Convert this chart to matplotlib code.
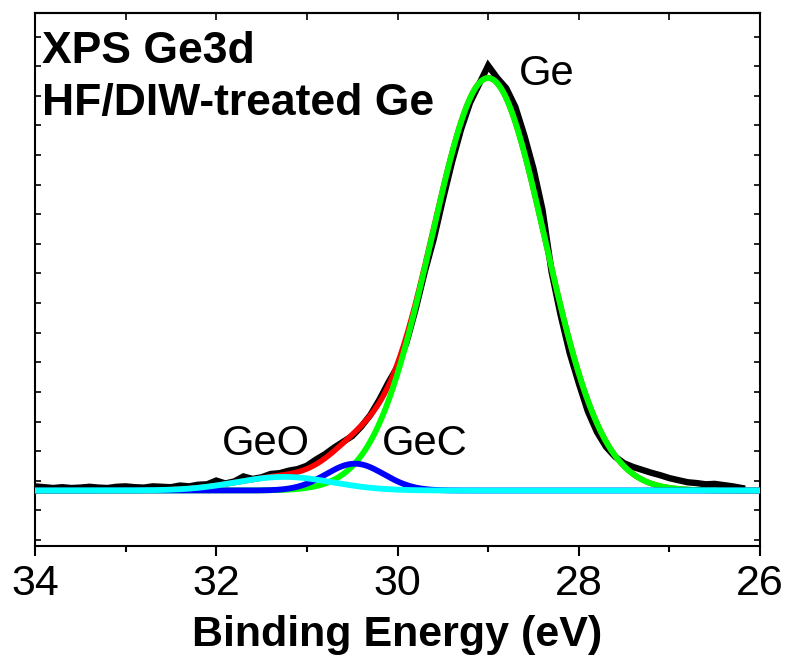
import numpy as np
import matplotlib

matplotlib.use("Agg")

import matplotlib.pyplot as plt
from matplotlib.ticker import MultipleLocator

plt.rcParams["font.family"] = ["Liberation Sans", "DejaVu Sans"]

# measured Ge 3d spectrum (binding energy in eV, normalised intensity)
BE = [34.0, 33.9, 33.8, 33.7, 33.6, 33.5, 33.4, 33.3, 33.2, 33.1,
      33.0, 32.9, 32.8, 32.7, 32.6, 32.5, 32.4, 32.3, 32.2, 32.1,
      32.0, 31.9, 31.8, 31.7, 31.6, 31.5, 31.4, 31.3, 31.2, 31.1,
      31.0, 30.9, 30.8, 30.7, 30.6, 30.5, 30.4, 30.3, 30.2, 30.1,
      30.0, 29.9, 29.8, 29.7, 29.6, 29.5, 29.4, 29.3, 29.2, 29.1,
      29.0, 28.9, 28.8, 28.7, 28.6, 28.5, 28.4, 28.3, 28.2, 28.1,
      28.0, 27.9, 27.8, 27.7, 27.6, 27.5, 27.4, 27.3, 27.2, 27.1,
      27.0, 26.9, 26.8, 26.7, 26.6, 26.5, 26.4, 26.3, 26.2]
INTENSITY = [0.010, 0.008, 0.006, 0.008, 0.006, 0.007, 0.009, 0.007, 0.006, 0.009,
             0.010, 0.008, 0.007, 0.010, 0.009, 0.008, 0.012, 0.010, 0.014, 0.015,
             0.024, 0.017, 0.022, 0.034, 0.028, 0.032, 0.040, 0.042, 0.048, 0.052,
             0.060, 0.075, 0.088, 0.104, 0.118, 0.132, 0.155, 0.183, 0.220, 0.262,
             0.300, 0.360, 0.440, 0.530, 0.610, 0.705, 0.795, 0.875, 0.940, 0.985,
             1.030, 1.000, 0.975, 0.930, 0.860, 0.780, 0.680, 0.530, 0.425, 0.333,
             0.260, 0.192, 0.142, 0.106, 0.082, 0.066, 0.057, 0.050, 0.043, 0.037,
             0.030, 0.025, 0.020, 0.018, 0.015, 0.016, 0.013, 0.010, 0.006]

# fitted components: name, centre (eV), height, sigma (eV), colour
PEAK_NAMES = ["Ge", "GeC", "GeO"]
PEAK_CENTERS = [29.0, 30.47, 31.25]
PEAK_HEIGHTS = [1.0, 0.065, 0.033]
PEAK_SIGMAS = [0.63, 0.32, 0.53]
PEAK_COLORS = ["#00ff00", "#0000ff", "#00ffff"]


def gauss(e, center, height, sigma):
    return height * np.exp(-((e - center) ** 2) / (2 * sigma ** 2))


fig = plt.figure(figsize=(7.86, 6.56), dpi=100)
ax = fig.add_axes([0.0445, 0.1677, 0.9225, 0.8125])

e_fit = np.linspace(34, 26, 801)
components = [gauss(e_fit, c, h, s) for c, h, s in zip(PEAK_CENTERS, PEAK_HEIGHTS, PEAK_SIGMAS)]
envelope = np.sum(components, axis=0)

ax.plot(BE, INTENSITY, color="black", lw=4.6, solid_joinstyle="miter", zorder=2)
ax.plot(e_fit, envelope, color="#ff0000", lw=4.0, zorder=3)
for i, (comp, color) in enumerate(zip(components, PEAK_COLORS)):
    ax.plot(e_fit, comp, color=color, lw=4.2, zorder=4 + i)

ax.set_xlim(34, 26)
ax.set_ylim(-0.1345, 1.1576)

ax.xaxis.set_major_locator(MultipleLocator(2))
ax.xaxis.set_minor_locator(MultipleLocator(1))
ax.tick_params(axis="x", which="major", direction="out", length=7, width=1.5,
               labelsize=31, pad=6, top=False)
ax.tick_params(axis="x", which="minor", direction="out", length=4.5, width=1.5, top=False)

# inward ticks on top and on both sides, without labels
top = ax.secondary_xaxis("top")
top.set_xticks(np.arange(34, 25.5, -1))
top.tick_params(direction="in", length=5, width=1.2, labeltop=False)
top.spines["top"].set_linewidth(1.5)

ax.set_yticks(np.arange(-0.12, 1.16, 0.0718))
ax.tick_params(axis="y", direction="in", length=4, width=1.2, left=True, right=True,
               labelleft=False)

for spine in ax.spines.values():
    spine.set_linewidth(1.5)

ax.set_xlabel("Binding Energy (eV)", fontsize=31, fontweight="bold", labelpad=8)

ax.text(0.009, 0.906, "XPS Ge3d", transform=ax.transAxes, fontsize=32,
        fontweight="bold", va="baseline")
ax.text(0.009, 0.809, "HF/DIW-treated Ge", transform=ax.transAxes, fontsize=32,
        fontweight="bold", va="baseline")

ax.text(28.66, 0.983, "Ge", fontsize=30, va="baseline")
ax.text(31.94, 0.086, "GeO", fontsize=30, va="baseline")
ax.text(30.17, 0.086, "GeC", fontsize=30, va="baseline")

fig.savefig("out.png", dpi=100)
